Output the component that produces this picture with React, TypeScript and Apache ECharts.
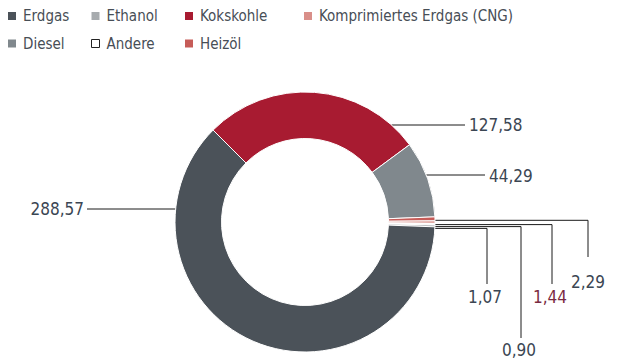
import React, { useEffect, useRef } from "react";
import * as echarts from "echarts";

const categories = ["Kokskohle", "Diesel", "Heizöl", "Komprimiertes Erdgas (CNG)", "Andere", "Ethanol", "Erdgas"];
const values = [127.58, 44.29, 2.29, 1.44, 0.9, 1.07, 288.57];
const colors = ["#a81b31", "#80888d", "#c65c58", "#d98f89", "#ffffff", "#a7abae", "#4b5259"];
const legendColumns = [
  ["Erdgas", "Diesel"],
  ["Ethanol", "Andere"],
  ["Kokskohle", "Heizöl"],
  ["Komprimiertes Erdgas (CNG)"],
];

const FONT = "'Liberation Sans Narrow', 'DejaVu Sans Condensed', 'Roboto Condensed', 'Noto Sans', sans-serif";
const CX = 305;
const CY = 222;
const R_OUT = 130;
const R_IN = 83.5;
const legendLeft = [8, 91, 185, 304];

// label annotation layout (index-aligned with categories)
const labelPos = [
  { lineY: 125, side: 1, endX: 465, tx: 469, ty: 125, align: "left" },
  { lineY: 175, side: 1, endX: 485, tx: 489, ty: 176, align: "left" },
  { lineY: 220.3, side: 1, endX: 588, dropY: 257, tx: 588, ty: 282, align: "center" },
  { lineY: 224.6, side: 1, endX: 552, dropY: 284, tx: 550, ty: 297, align: "center" },
  { lineY: 226.6, side: 1, endX: 521, dropY: 338, tx: 519, ty: 350, align: "center" },
  { lineY: 228.4, side: 1, endX: 487, dropY: 284, tx: 485, ty: 297, align: "center" },
  { lineY: 209, side: -1, endX: 87, tx: 84, ty: 209, align: "right" },
];

const fmt = (v: number) => v.toFixed(2).replace(".", ",");

export default function App() {
  const ref = useRef<HTMLDivElement>(null);
  useEffect(() => {
    document.body.style.margin = "0";
    if (!ref.current) return;
    const chart = echarts.init(ref.current, null, { renderer: "svg" });
    const data = categories.map((name, i) => ({
      name,
      value: values[i],
      itemStyle: { color: colors[i] },
      label: i === 3 ? { color: "#7a2a42" } : undefined,
    }));
    const legends = legendColumns.map((col, ci) => ({
      orient: "vertical",
      left: legendLeft[ci],
      top: 7,
      padding: 0,
      itemGap: 9.5,
      itemWidth: 8,
      itemHeight: 8,
      icon: "rect",
      selectedMode: false,
      itemStyle: { borderWidth: 0 },
      textStyle: {
        fontFamily: FONT,
        fontSize: 15,
        lineHeight: 18,
        color: "#474e56",
        padding: [0, 0, 0, 2],
      },
      data: col.map((n) =>
        n === "Andere"
          ? { name: n, itemStyle: { color: "#ffffff", borderColor: "#222222", borderWidth: 1 } }
          : { name: n }
      ),
    }));
    chart.setOption({
      animation: false,
      legend: legends,
      series: [
        {
          type: "pie",
          center: [CX, CY],
          radius: [R_IN, R_OUT],
          startAngle: 135,
          clockwise: true,
          avoidLabelOverlap: false,
          itemStyle: { borderColor: "#ffffff", borderWidth: 1 },
          emphasis: { disabled: true },
          label: {
            show: true,
            position: "outside",
            fontFamily: FONT,
            fontSize: 17,
            color: "#3b4653",
            formatter: (p: any) => fmt(p.value),
          },
          labelLine: { show: true, smooth: false, lineStyle: { color: "#1a1a1a", width: 1 } },
          labelLayout: (params: any) => {
            const L: any = labelPos[params.dataIndex];
            const dy = L.lineY - CY;
            const sx = CX + L.side * Math.sqrt(R_OUT * R_OUT - dy * dy);
            const pts: number[][] = [[sx, L.lineY], [L.endX, L.lineY]];
            if (L.dropY !== undefined) pts.push([L.endX, L.dropY]);
            else pts.push([L.endX, L.lineY]);
            return {
              x: L.tx,
              y: L.ty,
              align: L.align,
              verticalAlign: "middle",
              labelLinePoints: pts,
            };
          },
          data,
        },
      ],
    });
    return () => chart.dispose();
  }, []);
  return <div ref={ref} style={{ width: 622, height: 361 }} />;
}
